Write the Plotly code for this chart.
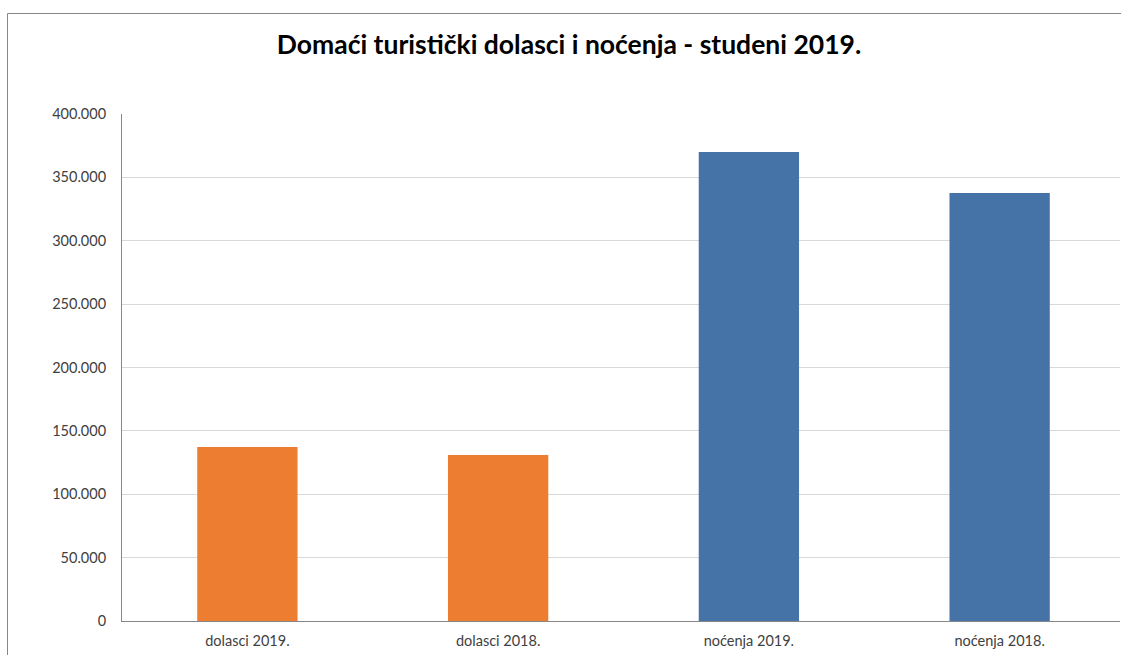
import plotly.graph_objects as go

categories = ["dolasci 2019.", "dolasci 2018.", "noćenja 2019.", "noćenja 2018."]
values = [137300, 131000, 370000, 337700]
colors = ["#ED7D31", "#ED7D31", "#4673A7", "#4673A7"]
tick_vals = [0, 50000, 100000, 150000, 200000, 250000, 300000, 350000, 400000]

W, H = 1121, 655
L, R, T, B = 122, 1, 114, 34

fig = go.Figure(go.Bar(x=list(range(len(categories))), y=values, marker_color=colors,
                       marker_line_width=0, width=0.4))

pw = W - L - R
ph = H - T - B
def px_x(p):
    return (p - L) / pw
def px_y(p):
    return (H - B - p) / ph

FONT = "Lato, Carlito, sans-serif"
BORDER = dict(color="#878787", width=1)

fig.update_layout(
    width=W, height=H,
    margin=dict(l=L, r=R, t=T, b=B),
    paper_bgcolor="white", plot_bgcolor="white",
    separators=",.",
    font=dict(family=FONT, size=14.5, color="#404040"),
    title=dict(text="<b>Domaći turistički dolasci i noćenja - studeni 2019.</b>",
               x=569 / W, xref="container", xanchor="center", y=1 - 45 / H, yanchor="middle",
               font=dict(size=26.5, color="black", family=FONT)),
    showlegend=False,
    xaxis=dict(tickmode="array", tickvals=list(range(len(categories))), ticktext=categories,
               range=[-0.5, 3.48], showline=True, linecolor="#868686", linewidth=1,
               showgrid=False, ticks="", zeroline=False, ticklabelstandoff=7,
               tickfont=dict(size=14.5, color="#404040")),
    yaxis=dict(range=[0, 400000], tickvals=tick_vals, tickformat=",d",
               showline=True, linecolor="#868686", linewidth=1,
               showgrid=True, gridcolor="#D9D9D9", gridwidth=1, zeroline=False,
               ticks="", ticklabelstandoff=12, tickfont=dict(size=14.5, color="#404040")),
    shapes=[
        dict(type="line", xref="paper", yref="paper",
             x0=px_x(7.5), x1=px_x(7.5), y0=px_y(H + 5), y1=px_y(13.5), line=BORDER),
        dict(type="line", xref="paper", yref="paper",
             x0=px_x(7.5), x1=px_x(W + 5), y0=px_y(13.5), y1=px_y(13.5), line=BORDER),
    ],
)

fig.write_html("out.html", config={"displayModeBar": False},
               post_script="document.body.style.margin='0';document.body.style.overflow='hidden';")
